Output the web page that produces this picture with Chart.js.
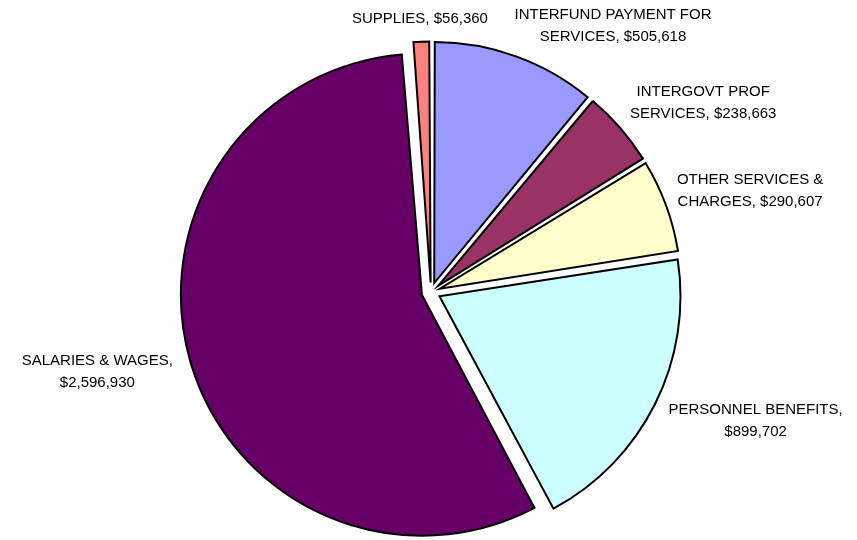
<!DOCTYPE html>
<html>
<head>
<meta charset="utf-8">
<script src="https://cdn.jsdelivr.net/npm/chart.js@4"></script>
<style>
    html, body { margin: 0; padding: 0; background: #fff; }
</style>
</head>
<body>
<canvas id="myChart" width="857" height="540"></canvas>
<script>
'use strict';

let categories = ['INTERFUND PAYMENT FOR SERVICES', 'INTERGOVT PROF SERVICES', 'OTHER SERVICES & CHARGES',
    'PERSONNEL BENEFITS', 'SALARIES & WAGES', 'SUPPLIES'];
let amounts = [505618, 238663, 290607, 899702, 2596930, 56360];

// label tweaks, like excel's "best fit" placement
let labelNudge = [[57, 9], [13, 2], [-3, 0], [5, -1], [-2, -2], [2, 8]];
let lineH = 22;

function wrapText(ctx, text, maxW) {
    let words = text.split(' ');
    let lines = [];
    let cur = '';
    for (let i = 0; i < words.length; i++) {
        let test = cur ? cur + ' ' + words[i] : words[i];
        if (cur && ctx.measureText(test).width > maxW) {
            lines.push(cur);
            cur = words[i];
        } else {
            cur = test;
        }
    }
    lines.push(cur);
    return lines;
}

// chart.js grows an exploded slice's radius with its offset, undo that so all slices stay the same size
const evenRadius = {
    id: 'evenRadius',
    beforeDatasetsDraw(chart) {
        const meta = chart.getDatasetMeta(0);
        const baseR = meta.controller.outerRadius;
        meta.data.forEach(arc => {
            let o = (arc.options.offset || 0) / 4;
            let fix = 1 - Math.sin(Math.min(Math.PI, arc.circumference || 0));
            arc.outerRadius = baseR - o * fix;
        });
    }
};

const pieLabels = {
    id: 'pieLabels',
    afterDatasetsDraw(chart) {
        const ctx = chart.ctx;
        const meta = chart.getDatasetMeta(0);
        const baseR = meta.controller.outerRadius;
        ctx.save();
        ctx.font = '15px "Liberation Sans", Arial, sans-serif';
        ctx.fillStyle = '#000';
        ctx.textAlign = 'center';
        ctx.textBaseline = 'middle';
        meta.data.forEach((arc, i) => {
            let lines = wrapText(ctx, categories[i] + ', $' + amounts[i].toLocaleString('en-US'), 210);
            let mid = (arc.startAngle + arc.endAngle) / 2;
            let ux = Math.cos(mid), uy = Math.sin(mid);
            let r = baseR + 29;
            let w = Math.max(...lines.map(l => ctx.measureText(l).width));
            let h = lines.length * lineH;
            let cx = arc.x + ux * r + ux * w / 2 + labelNudge[i][0];
            let cy = arc.y + uy * r + uy * h / 2 + labelNudge[i][1];
            lines.forEach((l, k) => {
                ctx.fillText(l, cx, cy + (k - (lines.length - 1) / 2) * lineH);
            });
        });
        ctx.restore();
    }
};

function createChart() {
    let ctx = document.getElementById('myChart').getContext('2d');

    let myChart = new Chart(ctx, {
        type: 'pie',
        data: {
            labels: categories,
            datasets: [{
                data: amounts,
                backgroundColor: ['#9999FF', '#993366', '#FFFFCC', '#CCFFFF', '#660066', '#FF8080'],
                borderColor: '#000',
                borderWidth: 2,
                borderJoinStyle: 'miter',
                offset: 38
            }]
        },
        options: {
            responsive: false,
            animation: false,
            radius: 241,
            layout: { padding: { left: 5, top: 44, right: 0, bottom: 0 } },
            plugins: {
                legend: { display: false },
                tooltip: { enabled: false }
            }
        },
        plugins: [evenRadius, pieLabels]
    });
}

createChart()
</script>
</body>
</html>
